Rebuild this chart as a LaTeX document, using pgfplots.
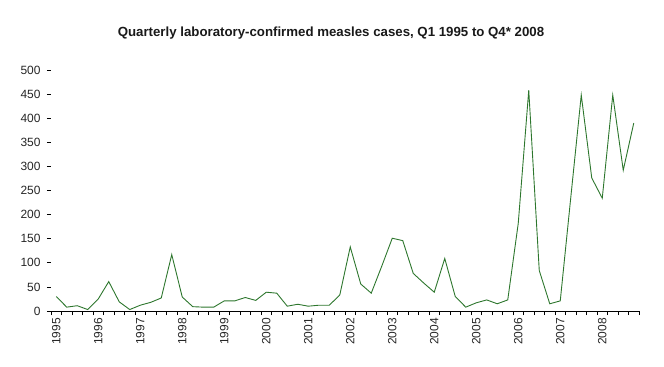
\documentclass[border=0pt]{standalone}
\usepackage{fontspec}
\setmainfont{Liberation Sans}
\usepackage{pgfplots}
\pgfplotsset{compat=1.18}
\definecolor{linegreen}{RGB}{45,118,45}
\pgfplotstableread{
q v
0 30
1 8
2 11
3 3
4 25
5 61
6 19
7 3
8 12
9 18
10 27
11 117
12 29
13 9
14 8
15 8
16 21
17 21
18 28
19 22
20 39
21 37
22 10
23 14
24 10
25 12
26 12
27 33
28 133
29 56
30 37
31 93
32 151
33 146
34 78
35 58
36 39
37 109
38 30
39 8
40 17
41 23
42 15
43 23
44 182
45 458
46 84
47 15
48 21
49 235
50 448
51 276
52 234
53 448
54 292
55 390
}\measles
\begin{document}
\begin{tikzpicture}[x=1bp,y=1bp]
\path[use as bounding box] (0,0) rectangle (664,366);
\node[font=\fontsize{13.3}{15}\bfseries\selectfont, text=black!90] at (331,333) {Quarterly laboratory-confirmed measles cases, Q1 1995 to Q4* 2008};
\begin{axis}[
  at={(51bp,55bp)}, anchor=south west,
  width=588bp, height=241bp, scale only axis,
  xmin=-0.5, xmax=55.5, ymin=0, ymax=500,
  axis x line*=bottom, axis y line*=left,
  y axis line style={draw=none},
  x axis line style={line width=1pt},
  tick align=outside,
  major tick length=4bp,
  tick style={black, line width=0.8pt},
  ytick={0,50,...,500},
  xtick={-0.5,0.5,...,55.5},
  xticklabels={},
  extra x ticks={0,4,...,52},
  extra x tick labels={1995,1996,1997,1998,1999,2000,2001,2002,2003,2004,2005,2006,2007,2008},
  extra x tick style={major tick length=0pt, tick label style={rotate=90, anchor=east, inner xsep=7bp}},
  tick label style={font=\fontsize{12}{14}\selectfont, text=black!85},
  /pgf/number format/assume math mode=true,
  yticklabel style={xshift=-3bp},
  clip=false,
]
\addplot[linegreen, line width=0.9pt, mark=none] table[x=q, y=v] {\measles};
\end{axis}
\end{tikzpicture}
\end{document}
